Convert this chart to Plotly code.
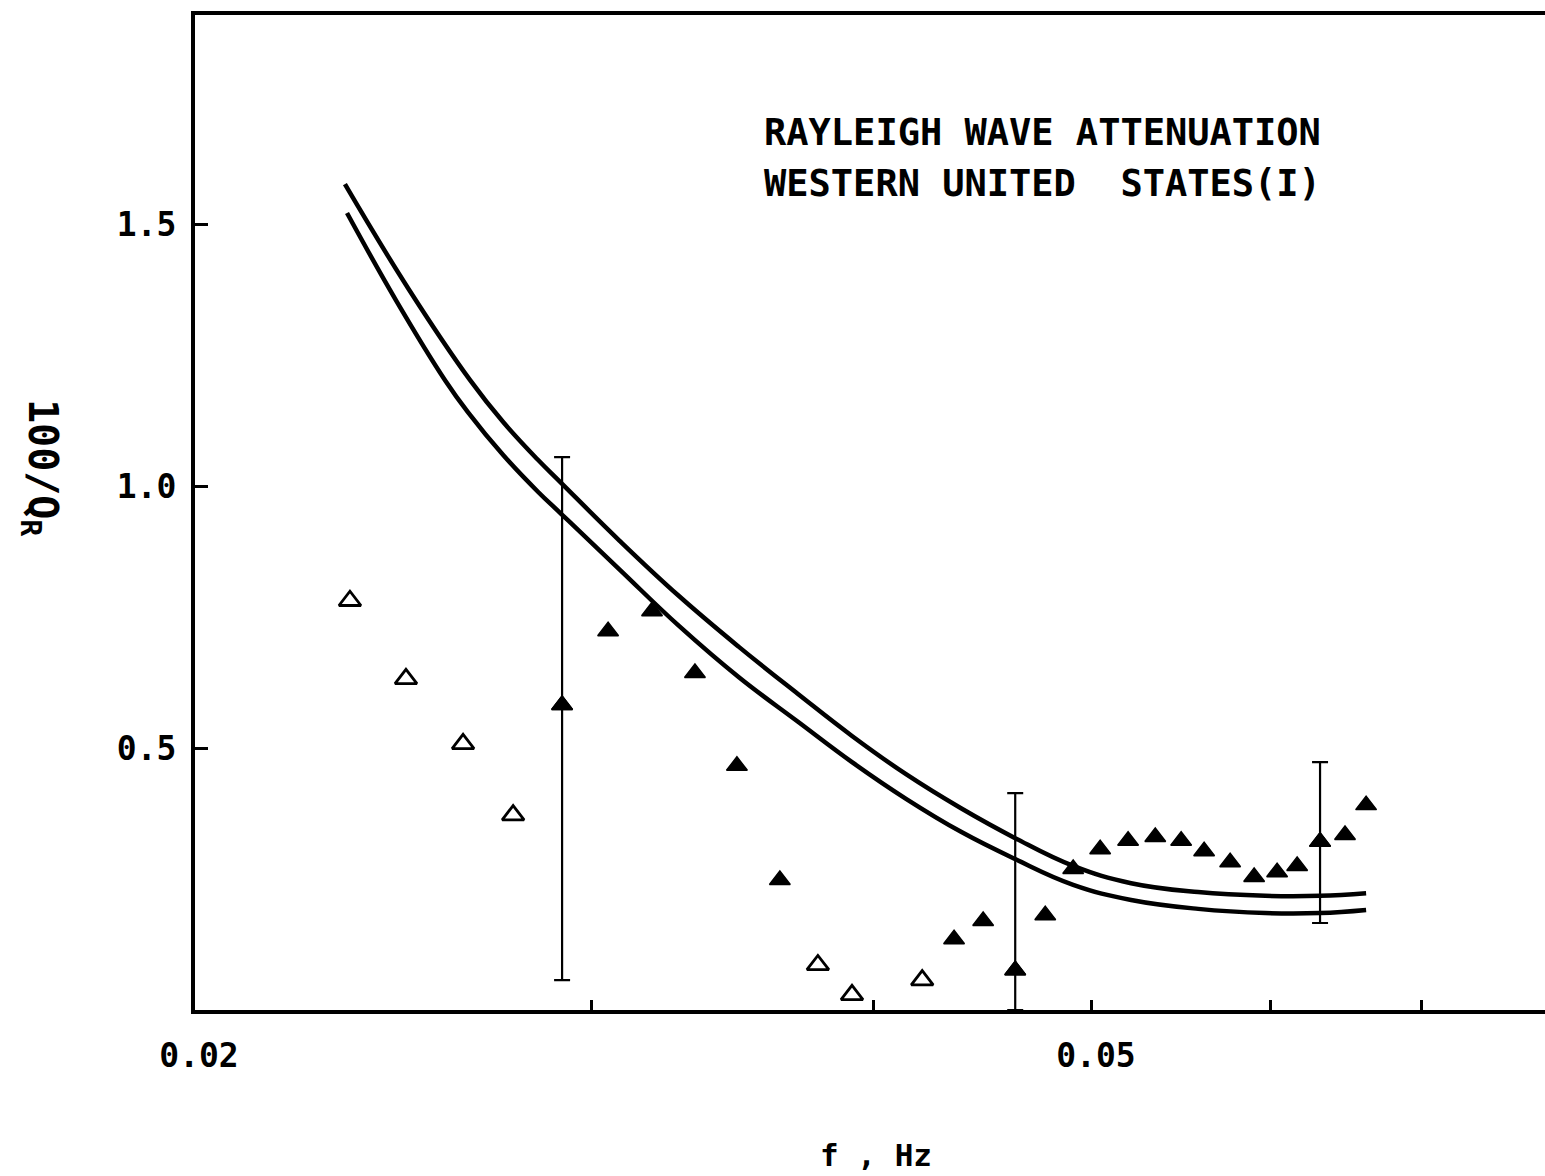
import math
import plotly.graph_objects as go

# Rayleigh-wave attenuation, western United States: frequency (Hz) vs 100/Q_R
open_f = [0.02343, 0.02481, 0.02630, 0.02768, 0.03779, 0.03913, 0.04204]
open_q = [0.781, 0.632, 0.508, 0.372, 0.086, 0.029, 0.057]

filled_f = [0.02910, 0.03050, 0.03190, 0.03333, 0.03479, 0.03635, 0.04343,
            0.04474, 0.04623, 0.04767, 0.04905, 0.05042, 0.05188, 0.05334,
            0.05477, 0.05607, 0.05758, 0.05901, 0.06041, 0.06166, 0.06312,
            0.06475, 0.06616]
filled_q = [0.582, 0.723, 0.761, 0.643, 0.466, 0.248, 0.135,
            0.170, 0.076, 0.181, 0.269, 0.307, 0.323, 0.330,
            0.323, 0.303, 0.282, 0.254, 0.263, 0.275, 0.321,
            0.334, 0.391]

# points of the filled series that carry error bars, with bar ends
err_index = [0, 8, 20]
err_top = [1.055, 0.414, 0.473]
err_bottom = [0.057, 0.0, 0.166]

# model curves
upper_f = [0.02331, 0.02486, 0.02649, 0.02740, 0.02839, 0.02907, 0.03087,
           0.03279, 0.03486, 0.03703, 0.03913, 0.04135, 0.04374, 0.04623,
           0.04905, 0.05204, 0.05573, 0.05968, 0.06312, 0.06616]
upper_q = [1.576, 1.378, 1.202, 1.122, 1.050, 1.006, 0.895,
           0.790, 0.693, 0.603, 0.523, 0.450, 0.385, 0.328,
           0.275, 0.242, 0.225, 0.218, 0.218, 0.223]
lower_f = [0.02336, 0.02457, 0.02582, 0.02643, 0.02740, 0.02839, 0.02907,
           0.03087, 0.03279, 0.03486, 0.03703, 0.03913, 0.04135, 0.04374,
           0.04623, 0.04905, 0.05204, 0.05573, 0.05968, 0.06312, 0.06616]
lower_q = [1.521, 1.353, 1.202, 1.141, 1.059, 0.989, 0.947,
           0.840, 0.733, 0.635, 0.550, 0.473, 0.403, 0.340,
           0.288, 0.239, 0.210, 0.193, 0.185, 0.185, 0.191]

x_label_vals = [0.02, 0.05]
x_label_text = ["0.02", "0.05"]
x_minor_vals = [0.03, 0.04, 0.06, 0.07]
y_tickvals = [0.5, 1.0, 1.5]
y_ticktext = ["0.5", "1.0", "1.5"]

FONT = "DejaVu Sans Mono"
INK = "black"

fig = go.Figure()

for cf, cq in ((upper_f, upper_q), (lower_f, lower_q)):
    fig.add_trace(go.Scatter(
        x=cf, y=cq, mode="lines",
        line=dict(color=INK, width=4.5, shape="spline", smoothing=1.2),
        hoverinfo="skip", showlegend=False,
    ))

fig.add_trace(go.Scatter(
    x=open_f, y=open_q, mode="markers",
    marker=dict(symbol="triangle-up-open", size=19, color=INK,
                line=dict(color=INK, width=2.8)),
    showlegend=False,
))

ef = [filled_f[i] for i in err_index]
eq = [filled_q[i] for i in err_index]
fig.add_trace(go.Scatter(
    x=ef, y=eq, mode="markers",
    marker=dict(symbol="triangle-up", size=18, color=INK,
                line=dict(color=INK, width=1.5)),
    error_y=dict(type="data", symmetric=False,
                 array=[t - q for t, q in zip(err_top, eq)],
                 arrayminus=[q - b for q, b in zip(eq, err_bottom)],
                 color=INK, thickness=2.2, width=8),
    showlegend=False,
))

fig.add_trace(go.Scatter(
    x=filled_f, y=filled_q, mode="markers",
    marker=dict(symbol="triangle-up", size=18, color=INK,
                line=dict(color=INK, width=1.5)),
    showlegend=False,
))

x0 = math.log10(0.02)
tick_font = dict(family=FONT, size=33, weight="bold", color=INK)
fig.update_layout(
    width=1545, height=1176,
    margin=dict(l=195, r=0, t=15, b=166),
    paper_bgcolor="white", plot_bgcolor="white",
    font=dict(family=FONT, color=INK),
    xaxis=dict(
        type="log", range=[x0, x0 + 1350 / 2254],
        showline=True, linecolor=INK, linewidth=4, mirror=True,
        ticks="inside", ticklen=10, tickwidth=3, tickcolor=INK,
        tickvals=x_label_vals, ticktext=x_label_text,
        minor=dict(tickvals=x_minor_vals, ticks="inside", ticklen=10,
                   tickwidth=3, tickcolor=INK, showgrid=False),
        tickfont=tick_font,
        ticklabelstandoff=13, ticklabelshift=4,
        showgrid=False, zeroline=False,
    ),
    yaxis=dict(
        range=[0, 995 / 524],
        showline=True, linecolor=INK, linewidth=4,
        ticks="inside", ticklen=13, tickwidth=3, tickcolor=INK,
        tickvals=y_tickvals, ticktext=y_ticktext,
        tickfont=tick_font,
        ticklabelstandoff=8,
        showgrid=False, zeroline=False,
    ),
    annotations=[
        dict(text="RAYLEIGH WAVE ATTENUATION", xref="paper", yref="paper",
             x=(762 - 195) / 1350, y=(1010 - 132) / 995,
             xanchor="left", yanchor="middle", showarrow=False,
             font=dict(family=FONT, size=37, weight="bold", color=INK)),
        dict(text="WESTERN UNITED  STATES(I)", xref="paper", yref="paper",
             x=(762 - 195) / 1350, y=(1010 - 183) / 995,
             xanchor="left", yanchor="middle", showarrow=False,
             font=dict(family=FONT, size=37, weight="bold", color=INK)),
        dict(text="100/Q<sub>R</sub>", xref="paper", yref="paper",
             x=(40 - 195) / 1350, y=(1010 - 467) / 995,
             xanchor="center", yanchor="middle", textangle=90,
             showarrow=False,
             font=dict(family=FONT, size=40, weight="bold", color=INK)),
        dict(text="f , Hz", xref="paper", yref="paper",
             x=(876 - 195) / 1350, y=(1010 - 1155) / 995,
             xanchor="center", yanchor="middle", showarrow=False,
             font=dict(family=FONT, size=31, weight="bold", color=INK)),
    ],
)

fig.write_html("out.html")
